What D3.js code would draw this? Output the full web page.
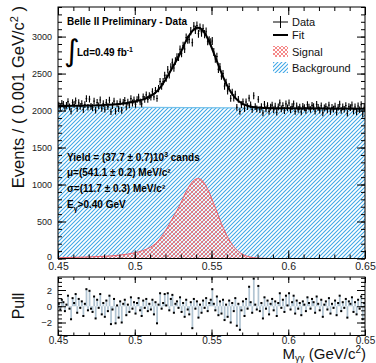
<!DOCTYPE html>
<html><head><meta charset="utf-8">
<script src="https://cdn.jsdelivr.net/npm/d3@7"></script>
<style>body{margin:0;background:#fff;} svg{display:block;font-family:"Liberation Sans",Arial,Helvetica,sans-serif;}</style>
</head><body><svg id="c" width="376" height="363"></svg>
<script>
// ---------------- data ----------------
const binLow = 0.45, binWidth = 0.001, nBins = 200;
const dataCounts = [
2074,2043,2097,2084,2035,2071,2121,2049,1990,2108,
2082,2132,2029,2106,2057,2093,2011,2081,2162,2045,
2155,2056,2039,2127,2004,2109,2065,2143,2029,2094,
2018,2110,2053,2140,1983,2066,2127,1991,2093,2025,
2118,2002,2110,2136,2051,2113,2076,2162,2102,2143,
2083,2148,2181,2117,2090,2185,2152,2212,2151,2202,
2181,2254,2185,2272,2164,2296,2392,2329,2392,2476,
2439,2551,2482,2588,2651,2575,2670,2724,2721,2828,
2775,2878,2832,2986,2957,2960,3073,2919,3142,3091,
3148,3038,3122,3052,3110,3034,3066,2936,2949,2924,
2940,2792,2697,2730,2557,2591,2465,2500,2330,2380,
2264,2325,2165,2247,2169,2220,2044,2151,1987,2080,
2117,2027,2116,2053,2168,2076,2014,2201,2053,2023,
2152,2011,2055,1968,2085,2021,2066,1989,2047,2074,
2009,2059,1978,2050,2104,2023,2068,1999,2090,2036,
2103,2013,2054,2090,1989,2062,2016,2048,1980,2057,
2039,2003,2080,2048,2015,2070,2052,1993,2083,2043,
2006,2065,1969,2037,2055,2010,2073,1987,2042,2019,
2059,1977,2045,2086,2000,2050,2018,2068,1963,2053,
2040,2076,1994,2049,1981,2062,2011,2079,1953,2043];
const pulls = [
0.3,-0.4,0.8,0.5,-0.6,0.2,1.3,-0.3,-1.6,1.0,
0.4,1.5,-0.8,0.9,-0.2,0.6,-1.2,0.3,2.1,-0.5,
1.9,-0.3,-0.7,1.2,-1.5,0.8,-0.2,1.5,-1.0,0.4,
-1.3,0.7,-0.6,1.3,-2.2,-0.4,0.9,-2.1,0.1,-1.4,
0.6,-2.0,0.3,0.8,-1.1,0.2,-0.7,1.1,-0.3,0.5,
-0.9,0.4,1.0,-0.5,-1.2,0.7,-0.2,0.9,-0.6,0.3,
-0.4,0.8,-1.0,0.5,-2.1,0.2,1.6,-0.3,0.4,1.5,
0.1,1.6,-0.5,0.9,1.4,-0.8,0.3,0.6,-0.2,1.1,
-0.7,0.4,-1.3,0.8,-0.4,-1.0,0.5,-2.7,0.9,-0.3,
0.6,-1.4,0.2,-0.8,0.7,-0.2,1.0,-0.6,0.4,0.8,
2.1,0.3,-0.5,1.2,-1.1,0.6,-0.9,0.8,-1.7,0.2,
-1.3,0.7,-2.0,0.4,-0.6,1.0,-2.4,0.3,-2.9,-0.5,
0.6,-1.2,0.9,-0.3,2.4,0.5,-0.8,3.4,0.2,-0.4,
2.5,-0.6,0.4,-1.5,1.1,-0.3,0.7,-1.0,0.3,0.9,
-0.5,0.6,-1.2,0.4,1.6,-0.2,0.8,-0.7,1.3,0.1,
1.6,-0.4,0.5,1.3,-0.9,0.7,-0.3,0.4,-1.1,0.6,
0.2,-0.6,1.1,0.4,-0.3,0.9,0.5,-0.8,1.2,0.3,
-0.5,0.8,-1.3,0.2,0.6,-0.4,1.0,-0.9,0.3,-0.2,
0.7,-1.1,0.4,1.3,-0.6,0.5,-0.2,0.9,-1.4,0.6,
0.3,1.1,-0.7,0.5,-1.0,0.8,-0.3,1.2,-1.6,0.4];
const sigMass  = [0.45,0.46,0.47,0.48,0.49,0.495,0.50,0.505,0.51,0.515,0.52,0.525,0.53,0.533,0.536,0.539,0.541,0.543,0.546,0.549,0.552,0.555,0.558,0.561,0.565,0.57,0.575,0.58,0.585,0.59,0.60,0.65];
const sigValue = [10,15,21,30,45,58,78,105,150,230,375,557,749,885,994,1065,1080,1070,995,869,713,549,398,270,147,59,20,6,1.5,0,0,0];
const bkgMass  = [0.45,0.65];
const bkgValue = [2050,2025];
const xTicks = [0.45,0.5,0.55,0.6,0.65];
const yTicks = [0,500,1000,1500,2000,2500,3000];
const pullTicks = [-2,0,2];
const legendLabels = ["Data","Fit","Signal","Background"];

// ---------------- drawing ----------------
const svg = d3.select("#c");
const defs = svg.append("defs");
const pb = defs.append("pattern").attr("id","bkgHatch").attr("patternUnits","userSpaceOnUse").attr("width",4).attr("height",4);
pb.append("path").attr("d","M-1,1L1,-1M0,4L4,0M3,5L5,3").attr("stroke","#3ea6e6").attr("stroke-width",1.05);
const ps = defs.append("pattern").attr("id","sigHatch").attr("patternUnits","userSpaceOnUse").attr("width",4).attr("height",4);
ps.append("path").attr("d","M-1,1L1,-1M0,4L4,0M3,5L5,3M-1,3L1,5M0,0L4,4M3,-1L5,1").attr("stroke","#f36b6b").attr("stroke-width",0.8);

const M = {l:58, r:365, t:7, b:258.5};
const P = {t:277, b:335.5};
const x = d3.scaleLinear([0.45,0.65],[M.l,M.r]);
const y = d3.scaleLinear([0,3400],[M.b,M.t]);
const yp = d3.scaleLinear([-3.6,3.6],[P.b,P.t]);
const bkgAt = d3.scaleLinear(bkgMass,bkgValue);
const centers = d3.range(nBins).map(i => binLow + (i+0.5)*binWidth);
const fmt = d => (d<0?"\u2212":"") + Math.abs(d);

defs.append("clipPath").attr("id","clipMain").append("rect").attr("x",M.l).attr("y",M.t).attr("width",M.r-M.l).attr("height",M.b-M.t);
defs.append("clipPath").attr("id","clipPull").append("rect").attr("x",M.l).attr("y",P.t).attr("width",M.r-M.l).attr("height",P.b-P.t);

const gm = svg.append("g").attr("clip-path","url(#clipMain)");
// background
gm.append("path").datum(bkgMass).attr("fill","url(#bkgHatch)")
  .attr("d", d3.area().x(d=>x(d)).y0(y(0)).y1(d=>y(bkgAt(d))));
gm.append("path").datum(bkgMass).attr("fill","none").attr("stroke","#74c1ea").attr("stroke-width",1.2)
  .attr("d", d3.line().x(d=>x(d)).y(d=>y(bkgAt(d))));
// signal
const sigIdx = d3.range(sigMass.length);
gm.append("path").datum(sigIdx).attr("fill","url(#sigHatch)")
  .attr("d", d3.area().curve(d3.curveMonotoneX).x(i=>x(sigMass[i])).y0(y(0)).y1(i=>y(sigValue[i])));
gm.append("path").datum(sigIdx).attr("fill","none").attr("stroke","#ec5d68").attr("stroke-width",1)
  .attr("d", d3.line().curve(d3.curveMonotoneX).x(i=>x(sigMass[i])).y(i=>y(sigValue[i])));
// data
const gd = gm.append("g").attr("stroke","#000").attr("stroke-width",1.1);
dataCounts.forEach((n,i)=>{
  const c = centers[i], e = Math.sqrt(n);
  gd.append("line").attr("x1",x(c)).attr("x2",x(c)).attr("y1",y(n-e)).attr("y2",y(n+e));
  gd.append("line").attr("x1",x(c-binWidth/2)).attr("x2",x(c+binWidth/2)).attr("y1",y(n)).attr("y2",y(n));
});
// fit
gm.append("path").datum(sigIdx).attr("fill","none").attr("stroke","#000").attr("stroke-width",2)
  .attr("d", d3.line().curve(d3.curveMonotoneX).x(i=>x(sigMass[i])).y(i=>y(sigValue[i]+bkgAt(sigMass[i]))));

// pull
const gp = svg.append("g").attr("clip-path","url(#clipPull)");
pulls.forEach((p,i)=>{
  const c = centers[i];
  gp.append("rect").attr("x",x(c-binWidth/2)).attr("width",x(c+binWidth/2)-x(c-binWidth/2)+0.2)
    .attr("y",Math.min(yp(p),yp(0))).attr("height",Math.abs(yp(p)-yp(0))).attr("fill","#b2c5d3");
});
pulls.forEach((p,i)=>{
  gp.append("rect").attr("x",x(centers[i])-1).attr("y",yp(p)-1).attr("width",2).attr("height",2).attr("fill","#000");
});

// axes helper
function ticksAxis(axisFn, scale, vals, size, transform, withLabels, fs, pad){
  const a = axisFn(scale).tickValues(vals).tickSizeInner(size).tickSizeOuter(0).tickPadding(pad||3);
  a.tickFormat(withLabels ? fmt : "");
  const g = svg.append("g").attr("transform",transform).call(a);
  g.select(".domain").remove();
  g.selectAll(".tick line").attr("stroke","#000").attr("stroke-width",1);
  g.selectAll("text").attr("font-size",fs||10).attr("fill","#222").attr("font-family","Liberation Sans, Arial, sans-serif");
  return g;
}
const xMinor = d3.range(45,66).map(v=>v/100);
const yMinor = d3.range(0,35).map(v=>v*100);
const pMinor = d3.range(-7,8).map(v=>v/2);
// main
ticksAxis(d3.axisBottom, x, xTicks, -8, `translate(0,${M.b})`, true, 10.5, 4);
ticksAxis(d3.axisBottom, x, xMinor, -4, `translate(0,${M.b})`);
ticksAxis(d3.axisTop, x, xTicks, -8, `translate(0,${M.t})`);
ticksAxis(d3.axisTop, x, xMinor, -4, `translate(0,${M.t})`);
const yl = ticksAxis(d3.axisLeft, y, yTicks, -8, `translate(${M.l},0)`, true, 9, 6);
yl.selectAll(".tick text").filter(d=>d===0).attr("dy","0.1em");
ticksAxis(d3.axisLeft, y, yMinor, -4, `translate(${M.l},0)`);
ticksAxis(d3.axisRight, y, yTicks, -8, `translate(${M.r},0)`);
ticksAxis(d3.axisRight, y, yMinor, -4, `translate(${M.r},0)`);
// pull
ticksAxis(d3.axisBottom, x, xTicks, -6, `translate(0,${P.b})`, true, 10, 1);
ticksAxis(d3.axisBottom, x, xMinor, -3, `translate(0,${P.b})`);
ticksAxis(d3.axisTop, x, xTicks, -6, `translate(0,${P.t})`);
ticksAxis(d3.axisTop, x, xMinor, -3, `translate(0,${P.t})`);
ticksAxis(d3.axisLeft, yp, pullTicks, -8, `translate(${M.l},0)`, true, 9.5, 6);
ticksAxis(d3.axisLeft, yp, pMinor, -4, `translate(${M.l},0)`);
ticksAxis(d3.axisRight, yp, pullTicks, -8, `translate(${M.r},0)`);
ticksAxis(d3.axisRight, yp, pMinor, -4, `translate(${M.r},0)`);

// frames
svg.append("rect").attr("x",M.l).attr("y",M.t).attr("width",M.r-M.l).attr("height",M.b-M.t).attr("fill","none").attr("stroke","#000").attr("stroke-width",1);
svg.append("rect").attr("x",M.l).attr("y",P.t).attr("width",M.r-M.l).attr("height",P.b-P.t).attr("fill","none").attr("stroke","#000").attr("stroke-width",1);

// titles
const yt = svg.append("text").attr("transform","translate(24,6) rotate(-90)").attr("text-anchor","end").attr("font-size",16.5).attr("fill","#111");
yt.append("tspan").text("Events / ( 0.001 GeV/c");
yt.append("tspan").attr("font-size",11).attr("dy",-6).text("2");
yt.append("tspan").attr("dy",6).text(" )");
svg.append("text").attr("transform","translate(24,306) rotate(-90)").attr("text-anchor","middle").attr("font-size",16).attr("fill","#111").text("Pull");
const xt = svg.append("text").attr("x",366).attr("y",358.5).attr("text-anchor","end").attr("font-size",15).attr("fill","#111");
xt.append("tspan").text("M");
xt.append("tspan").attr("font-size",9.5).attr("dy",2).text("γγ");
xt.append("tspan").attr("dy",-2).text(" (GeV/c");
xt.append("tspan").attr("font-size",10).attr("dy",-6).text("2");
xt.append("tspan").attr("dy",6).text(")");

// annotations
svg.append("text").attr("x",67).attr("y",24.5).attr("font-size",10).attr("font-weight","bold").text("Belle II Preliminary - Data");
svg.append("text").attr("x",64).attr("y",61).attr("font-size",30).attr("font-family","DejaVu Sans").text("∫");
const ld = svg.append("text").attr("x",77).attr("y",56).attr("font-size",10).attr("font-weight","bold");
ld.append("tspan").text("Ld=0.49 fb");
ld.append("tspan").attr("font-size",7).attr("dy",-4).text("-1");

const info = svg.append("g").attr("font-size",10).attr("font-weight","bold").attr("fill","#000");
let t = info.append("text").attr("x",67).attr("y",161);
t.append("tspan").text("Yield = (37.7  ± 0.7)10");
t.append("tspan").attr("font-size",7).attr("dy",-4).text("3");
t.append("tspan").attr("dy",4).text(" cands");
info.append("text").attr("x",67).attr("y",176).text("μ=(541.1 ± 0.2) MeV/c²");
info.append("text").attr("x",67).attr("y",192).text("σ=(11.7  ± 0.3) MeV/c²");
t = info.append("text").attr("x",67).attr("y",208);
t.append("tspan").text("E");
t.append("tspan").attr("font-size",7).attr("dy",3).text("γ");
t.append("tspan").attr("dy",-3).text(">0.40 GeV");

// legend
const lg = svg.append("g");
const lx0 = 273, lx1 = 288, ltx = 292, rows = [22,35,52,68];
lg.append("line").attr("x1",lx0).attr("x2",lx1).attr("y1",rows[0]).attr("y2",rows[0]).attr("stroke","#000");
lg.append("line").attr("x1",(lx0+lx1)/2).attr("x2",(lx0+lx1)/2).attr("y1",rows[0]-6).attr("y2",rows[0]+6).attr("stroke","#000");
lg.append("line").attr("x1",lx0).attr("x2",lx1).attr("y1",rows[1]).attr("y2",rows[1]).attr("stroke","#000").attr("stroke-width",2);
lg.append("rect").attr("x",lx0).attr("y",rows[2]-6).attr("width",lx1-lx0).attr("height",11).attr("fill","url(#sigHatch)");
lg.append("rect").attr("x",lx0).attr("y",rows[3]-6).attr("width",lx1-lx0).attr("height",11).attr("fill","url(#bkgHatch)");
legendLabels.forEach((s,i)=>{
  lg.append("text").attr("x",ltx).attr("y",rows[i]+4).attr("font-size",11).attr("fill","#111").text(s);
});
</script></body></html>
